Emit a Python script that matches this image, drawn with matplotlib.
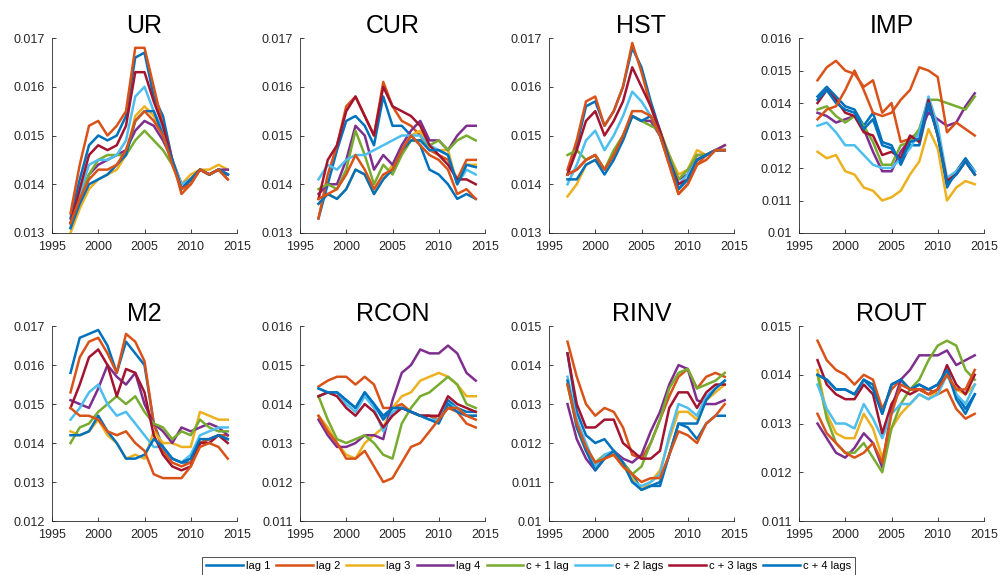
import numpy as np
import matplotlib
matplotlib.use("Agg")
from matplotlib import pyplot as plt
from matplotlib.ticker import MultipleLocator, FuncFormatter

plt.rcParams["font.family"] = ["Liberation Sans", "DejaVu Sans"]

years = list(range(1997, 2015))

labels = ["lag 1", "lag 2", "lag 3", "lag 4", "c + 1 lag", "c + 2 lags",
          "c + 3 lags", "c + 4 lags"]
colors = ["#0072BD", "#D95319", "#EDB120", "#7E2F8E", "#77AC30", "#4DBEEE",
          "#A2142F", "#0072BD", "#D95319"]

titles = ["UR", "CUR", "HST", "IMP", "M2", "RCON", "RINV", "ROUT"]
ylims = [(0.013, 0.017), (0.013, 0.017), (0.013, 0.017), (0.010, 0.016),
         (0.012, 0.017), (0.011, 0.016), (0.010, 0.015), (0.011, 0.015)]

# one row per model (x 1e-2), columns follow `years`
ur = [
    [1.33, 1.41, 1.48, 1.50, 1.49, 1.50, 1.54, 1.66, 1.67, 1.58, 1.54, 1.45, 1.39, 1.41, 1.43, 1.42, 1.43, 1.42],
    [1.34, 1.44, 1.52, 1.53, 1.50, 1.52, 1.55, 1.68, 1.68, 1.60, 1.52, 1.45, 1.38, 1.40, 1.43, 1.42, 1.43, 1.41],
    [1.30, 1.35, 1.39, 1.41, 1.42, 1.43, 1.46, 1.54, 1.56, 1.54, 1.50, 1.45, 1.40, 1.42, 1.43, 1.43, 1.44, 1.43],
    [1.32, 1.37, 1.42, 1.44, 1.45, 1.46, 1.47, 1.51, 1.53, 1.52, 1.49, 1.45, 1.40, 1.41, 1.43, 1.42, 1.43, 1.43],
    [1.31, 1.37, 1.42, 1.45, 1.46, 1.46, 1.46, 1.49, 1.51, 1.49, 1.47, 1.44, 1.40, 1.41, 1.43, 1.42, 1.43, 1.42],
    [1.31, 1.38, 1.44, 1.45, 1.45, 1.46, 1.49, 1.58, 1.60, 1.55, 1.51, 1.45, 1.40, 1.41, 1.43, 1.42, 1.43, 1.42],
    [1.32, 1.39, 1.46, 1.48, 1.47, 1.48, 1.52, 1.63, 1.63, 1.57, 1.52, 1.45, 1.39, 1.41, 1.43, 1.42, 1.43, 1.42],
    [1.31, 1.36, 1.40, 1.41, 1.42, 1.44, 1.46, 1.53, 1.55, 1.55, 1.50, 1.45, 1.39, 1.41, 1.43, 1.42, 1.43, 1.42],
    [1.32, 1.37, 1.41, 1.43, 1.43, 1.44, 1.47, 1.53, 1.55, 1.53, 1.50, 1.44, 1.39, 1.40, 1.43, 1.42, 1.43, 1.41],
]
cur = [
    [1.33, 1.40, 1.47, 1.53, 1.54, 1.52, 1.48, 1.58, 1.52, 1.52, 1.50, 1.48, 1.43, 1.42, 1.40, 1.37, 1.38, 1.37],
    [1.33, 1.42, 1.48, 1.56, 1.58, 1.54, 1.50, 1.61, 1.56, 1.53, 1.52, 1.50, 1.47, 1.46, 1.45, 1.41, 1.45, 1.45],
    [1.36, 1.38, 1.37, 1.39, 1.43, 1.42, 1.38, 1.41, 1.44, 1.47, 1.50, 1.51, 1.47, 1.47, 1.47, 1.40, 1.44, 1.44],
    [1.38, 1.40, 1.40, 1.45, 1.52, 1.50, 1.43, 1.46, 1.44, 1.48, 1.51, 1.53, 1.49, 1.49, 1.47, 1.50, 1.52, 1.52],
    [1.39, 1.40, 1.39, 1.43, 1.51, 1.46, 1.40, 1.44, 1.42, 1.46, 1.49, 1.49, 1.48, 1.49, 1.47, 1.49, 1.50, 1.49],
    [1.41, 1.44, 1.43, 1.45, 1.46, 1.46, 1.47, 1.48, 1.49, 1.50, 1.50, 1.50, 1.48, 1.47, 1.46, 1.40, 1.43, 1.42],
    [1.37, 1.45, 1.48, 1.55, 1.58, 1.54, 1.50, 1.60, 1.56, 1.55, 1.54, 1.52, 1.48, 1.46, 1.44, 1.41, 1.41, 1.40],
    [1.36, 1.38, 1.37, 1.39, 1.43, 1.42, 1.38, 1.41, 1.43, 1.47, 1.49, 1.49, 1.47, 1.47, 1.46, 1.40, 1.44, 1.435],
    [1.37, 1.38, 1.39, 1.42, 1.46, 1.43, 1.39, 1.42, 1.43, 1.47, 1.50, 1.48, 1.46, 1.45, 1.43, 1.38, 1.39, 1.37],
]
hst = [
    [1.42, 1.48, 1.56, 1.57, 1.52, 1.55, 1.60, 1.68, 1.64, 1.57, 1.51, 1.45, 1.39, 1.41, 1.45, 1.46, 1.47, 1.47],
    [1.43, 1.49, 1.57, 1.58, 1.52, 1.55, 1.60, 1.69, 1.63, 1.56, 1.50, 1.44, 1.38, 1.40, 1.44, 1.46, 1.47, 1.47],
    [1.375, 1.40, 1.44, 1.45, 1.43, 1.46, 1.49, 1.54, 1.53, 1.53, 1.50, 1.46, 1.42, 1.43, 1.47, 1.46, 1.47, 1.48],
    [1.42, 1.43, 1.45, 1.46, 1.43, 1.46, 1.50, 1.54, 1.53, 1.53, 1.50, 1.45, 1.41, 1.42, 1.46, 1.46, 1.47, 1.48],
    [1.46, 1.47, 1.45, 1.46, 1.43, 1.47, 1.50, 1.54, 1.53, 1.52, 1.51, 1.46, 1.41, 1.43, 1.46, 1.46, 1.47, 1.47],
    [1.40, 1.44, 1.49, 1.51, 1.47, 1.50, 1.54, 1.59, 1.57, 1.54, 1.50, 1.45, 1.40, 1.42, 1.45, 1.46, 1.47, 1.47],
    [1.42, 1.47, 1.53, 1.55, 1.50, 1.53, 1.57, 1.64, 1.60, 1.56, 1.51, 1.45, 1.40, 1.41, 1.45, 1.46, 1.47, 1.47],
    [1.41, 1.41, 1.44, 1.45, 1.42, 1.45, 1.49, 1.54, 1.53, 1.54, 1.50, 1.45, 1.39, 1.41, 1.45, 1.46, 1.47, 1.47],
    [1.42, 1.43, 1.45, 1.46, 1.43, 1.46, 1.50, 1.55, 1.55, 1.54, 1.50, 1.44, 1.38, 1.40, 1.44, 1.45, 1.47, 1.47],
]
imp = [
    [1.42, 1.45, 1.42, 1.39, 1.38, 1.33, 1.37, 1.28, 1.27, 1.21, 1.27, 1.27, 1.39, 1.31, 1.14, 1.19, 1.23, 1.19],
    [1.47, 1.51, 1.53, 1.50, 1.49, 1.45, 1.47, 1.37, 1.40, 1.28, 1.29, 1.31, 1.41, 1.30, 1.16, 1.19, 1.22, 1.18],
    [1.25, 1.23, 1.24, 1.19, 1.18, 1.14, 1.13, 1.10, 1.11, 1.13, 1.18, 1.22, 1.32, 1.26, 1.10, 1.14, 1.16, 1.15],
    [1.37, 1.36, 1.34, 1.35, 1.36, 1.32, 1.25, 1.19, 1.19, 1.25, 1.29, 1.31, 1.37, 1.35, 1.33, 1.34, 1.39, 1.43],
    [1.38, 1.39, 1.36, 1.34, 1.36, 1.33, 1.28, 1.21, 1.21, 1.27, 1.28, 1.32, 1.41, 1.41, 1.40, 1.39, 1.38, 1.42],
    [1.33, 1.34, 1.31, 1.27, 1.27, 1.24, 1.21, 1.20, 1.20, 1.23, 1.26, 1.31, 1.42, 1.33, 1.17, 1.19, 1.22, 1.19],
    [1.40, 1.44, 1.41, 1.37, 1.36, 1.31, 1.30, 1.24, 1.25, 1.23, 1.30, 1.28, 1.41, 1.30, 1.16, 1.18, 1.22, 1.18],
    [1.41, 1.44, 1.40, 1.38, 1.37, 1.32, 1.35, 1.27, 1.26, 1.22, 1.28, 1.29, 1.40, 1.30, 1.15, 1.18, 1.22, 1.18],
    [1.35, 1.38, 1.39, 1.44, 1.50, 1.44, 1.37, 1.36, 1.37, 1.41, 1.44, 1.51, 1.50, 1.48, 1.31, 1.34, 1.32, 1.30],
]
m2 = [
    [1.58, 1.67, 1.68, 1.69, 1.65, 1.58, 1.66, 1.63, 1.60, 1.45, 1.39, 1.36, 1.35, 1.35, 1.40, 1.41, 1.42, 1.41],
    [1.53, 1.62, 1.66, 1.67, 1.63, 1.58, 1.68, 1.66, 1.61, 1.45, 1.38, 1.35, 1.34, 1.35, 1.40, 1.41, 1.42, 1.42],
    [1.43, 1.42, 1.43, 1.46, 1.42, 1.40, 1.36, 1.37, 1.36, 1.43, 1.40, 1.40, 1.39, 1.39, 1.48, 1.47, 1.46, 1.46],
    [1.51, 1.50, 1.49, 1.54, 1.60, 1.57, 1.55, 1.58, 1.50, 1.45, 1.43, 1.40, 1.44, 1.43, 1.44, 1.45, 1.44, 1.42],
    [1.40, 1.44, 1.45, 1.48, 1.50, 1.52, 1.50, 1.52, 1.48, 1.45, 1.44, 1.41, 1.43, 1.42, 1.46, 1.44, 1.43, 1.43],
    [1.46, 1.49, 1.53, 1.55, 1.50, 1.47, 1.48, 1.45, 1.42, 1.39, 1.39, 1.36, 1.35, 1.37, 1.42, 1.43, 1.44, 1.44],
    [1.49, 1.55, 1.62, 1.64, 1.60, 1.52, 1.59, 1.58, 1.53, 1.42, 1.37, 1.34, 1.33, 1.34, 1.40, 1.40, 1.42, 1.40],
    [1.42, 1.42, 1.43, 1.47, 1.43, 1.40, 1.36, 1.36, 1.37, 1.41, 1.39, 1.36, 1.35, 1.36, 1.41, 1.41, 1.42, 1.41],
    [1.49, 1.47, 1.47, 1.46, 1.43, 1.42, 1.43, 1.40, 1.38, 1.32, 1.31, 1.31, 1.31, 1.34, 1.39, 1.40, 1.39, 1.36],
]
rcon = [
    [1.42, 1.43, 1.43, 1.41, 1.39, 1.43, 1.40, 1.37, 1.39, 1.39, 1.38, 1.37, 1.37, 1.36, 1.41, 1.39, 1.38, 1.38],
    [1.445, 1.46, 1.47, 1.47, 1.45, 1.47, 1.45, 1.39, 1.39, 1.40, 1.38, 1.37, 1.37, 1.36, 1.39, 1.38, 1.35, 1.34],
    [1.37, 1.34, 1.30, 1.27, 1.26, 1.30, 1.32, 1.34, 1.39, 1.42, 1.43, 1.46, 1.47, 1.48, 1.47, 1.45, 1.42, 1.42],
    [1.36, 1.32, 1.29, 1.29, 1.30, 1.32, 1.32, 1.31, 1.41, 1.48, 1.50, 1.54, 1.53, 1.53, 1.55, 1.53, 1.48, 1.46],
    [1.42, 1.36, 1.31, 1.30, 1.31, 1.32, 1.30, 1.27, 1.26, 1.35, 1.39, 1.42, 1.43, 1.45, 1.47, 1.45, 1.40, 1.39],
    [1.44, 1.43, 1.43, 1.40, 1.38, 1.42, 1.39, 1.33, 1.38, 1.39, 1.38, 1.37, 1.36, 1.36, 1.40, 1.39, 1.37, 1.37],
    [1.42, 1.43, 1.42, 1.39, 1.37, 1.40, 1.38, 1.34, 1.37, 1.39, 1.38, 1.37, 1.37, 1.37, 1.42, 1.40, 1.39, 1.38],
    [1.44, 1.43, 1.43, 1.41, 1.39, 1.43, 1.40, 1.36, 1.39, 1.39, 1.38, 1.37, 1.36, 1.35, 1.40, 1.38, 1.37, 1.37],
    [1.37, 1.33, 1.30, 1.26, 1.26, 1.28, 1.24, 1.20, 1.21, 1.25, 1.29, 1.30, 1.33, 1.36, 1.39, 1.39, 1.37, 1.36],
]
rinv = [
    [1.43, 1.28, 1.22, 1.20, 1.21, 1.18, 1.15, 1.12, 1.08, 1.09, 1.10, 1.17, 1.25, 1.24, 1.21, 1.25, 1.27, 1.27],
    [1.46, 1.37, 1.30, 1.27, 1.29, 1.28, 1.24, 1.17, 1.16, 1.20, 1.26, 1.32, 1.37, 1.39, 1.34, 1.37, 1.38, 1.37],
    [1.35, 1.24, 1.18, 1.14, 1.16, 1.17, 1.14, 1.11, 1.08, 1.10, 1.13, 1.21, 1.28, 1.28, 1.26, 1.31, 1.33, 1.35],
    [1.30, 1.21, 1.16, 1.13, 1.16, 1.18, 1.16, 1.15, 1.17, 1.23, 1.28, 1.35, 1.40, 1.39, 1.31, 1.30, 1.30, 1.31],
    [1.35, 1.25, 1.19, 1.15, 1.17, 1.17, 1.15, 1.12, 1.14, 1.20, 1.26, 1.34, 1.38, 1.39, 1.34, 1.35, 1.36, 1.38],
    [1.37, 1.26, 1.20, 1.14, 1.17, 1.18, 1.15, 1.10, 1.09, 1.10, 1.12, 1.22, 1.30, 1.29, 1.27, 1.32, 1.34, 1.36],
    [1.43, 1.30, 1.24, 1.24, 1.26, 1.26, 1.20, 1.18, 1.16, 1.16, 1.18, 1.29, 1.33, 1.33, 1.29, 1.33, 1.35, 1.35],
    [1.36, 1.24, 1.18, 1.13, 1.16, 1.18, 1.15, 1.10, 1.08, 1.09, 1.09, 1.17, 1.25, 1.25, 1.25, 1.31, 1.34, 1.36],
    [1.35, 1.25, 1.19, 1.15, 1.16, 1.17, 1.14, 1.12, 1.10, 1.11, 1.11, 1.17, 1.23, 1.22, 1.20, 1.25, 1.27, 1.30],
]
rout = [
    [1.40, 1.39, 1.37, 1.37, 1.36, 1.39, 1.38, 1.32, 1.38, 1.39, 1.37, 1.38, 1.37, 1.38, 1.41, 1.36, 1.33, 1.36],
    [1.47, 1.43, 1.41, 1.40, 1.38, 1.40, 1.39, 1.33, 1.37, 1.39, 1.37, 1.37, 1.37, 1.36, 1.37, 1.33, 1.31, 1.32],
    [1.41, 1.32, 1.28, 1.27, 1.27, 1.32, 1.29, 1.23, 1.29, 1.32, 1.34, 1.36, 1.35, 1.37, 1.40, 1.37, 1.36, 1.38],
    [1.30, 1.27, 1.24, 1.23, 1.25, 1.28, 1.26, 1.21, 1.33, 1.39, 1.41, 1.44, 1.44, 1.44, 1.45, 1.42, 1.43, 1.44],
    [1.40, 1.31, 1.26, 1.24, 1.24, 1.26, 1.23, 1.20, 1.29, 1.34, 1.37, 1.39, 1.43, 1.46, 1.47, 1.46, 1.41, 1.39],
    [1.38, 1.33, 1.30, 1.30, 1.29, 1.34, 1.31, 1.27, 1.32, 1.34, 1.34, 1.36, 1.35, 1.36, 1.40, 1.36, 1.34, 1.38],
    [1.43, 1.38, 1.36, 1.35, 1.35, 1.38, 1.36, 1.28, 1.34, 1.37, 1.36, 1.37, 1.36, 1.37, 1.42, 1.38, 1.36, 1.40],
    [1.40, 1.39, 1.37, 1.37, 1.36, 1.39, 1.37, 1.32, 1.38, 1.39, 1.37, 1.38, 1.37, 1.38, 1.41, 1.35, 1.32, 1.36],
    [1.32, 1.28, 1.26, 1.24, 1.23, 1.24, 1.26, 1.22, 1.32, 1.38, 1.37, 1.37, 1.36, 1.37, 1.40, 1.37, 1.37, 1.41],
]

panels = [ur, cur, hst, imp, m2, rcon, rinv, rout]

fig = plt.figure(figsize=(10, 5.75), dpi=100)

lefts = [0.052, 0.300, 0.549, 0.799]
bottoms = [0.5948, 0.0939]
width, height = 0.185, 0.339

axis_grey = "#262626"
handles = []
for k, (title, rows, lim) in enumerate(zip(titles, panels, ylims)):
    ax = fig.add_axes([lefts[k % 4], bottoms[k // 4], width, height])
    for i, row in enumerate(rows):
        (ln,) = ax.plot(years, np.array(row) / 100.0, color=colors[i], lw=1.8)
        if k == 0 and i < len(labels):
            ln.set_label(labels[i])
            handles.append(ln)

    ax.set_xlim(1995, 2015)
    ax.set_ylim(*lim)
    ax.xaxis.set_major_locator(MultipleLocator(5))
    ax.yaxis.set_major_locator(MultipleLocator(0.001))
    ax.yaxis.set_major_formatter(FuncFormatter(lambda v, p: f"{v:.3f}".rstrip("0")))
    ax.spines["top"].set_visible(False)
    ax.spines["right"].set_visible(False)
    for s in ("left", "bottom"):
        ax.spines[s].set_color(axis_grey)
        ax.spines[s].set_linewidth(0.6)
    ax.tick_params(direction="in", length=3, width=0.6, colors=axis_grey,
                   labelsize=9)
    ax.tick_params(axis="y", pad=5)
    ax.tick_params(axis="x", pad=6)
    ax.set_title(title, fontsize=18, pad=3)

leg = fig.legend(handles=handles, loc="upper center", ncol=8,
                 bbox_to_anchor=(0.5285, 0.0313), frameon=True, fancybox=False,
                 edgecolor="black", fontsize=8, handlelength=3.3,
                 handletextpad=0.27, columnspacing=0.55, borderpad=0.35,
                 borderaxespad=0)
leg.get_frame().set_linewidth(0.6)

fig.savefig("out.png", dpi=100)
